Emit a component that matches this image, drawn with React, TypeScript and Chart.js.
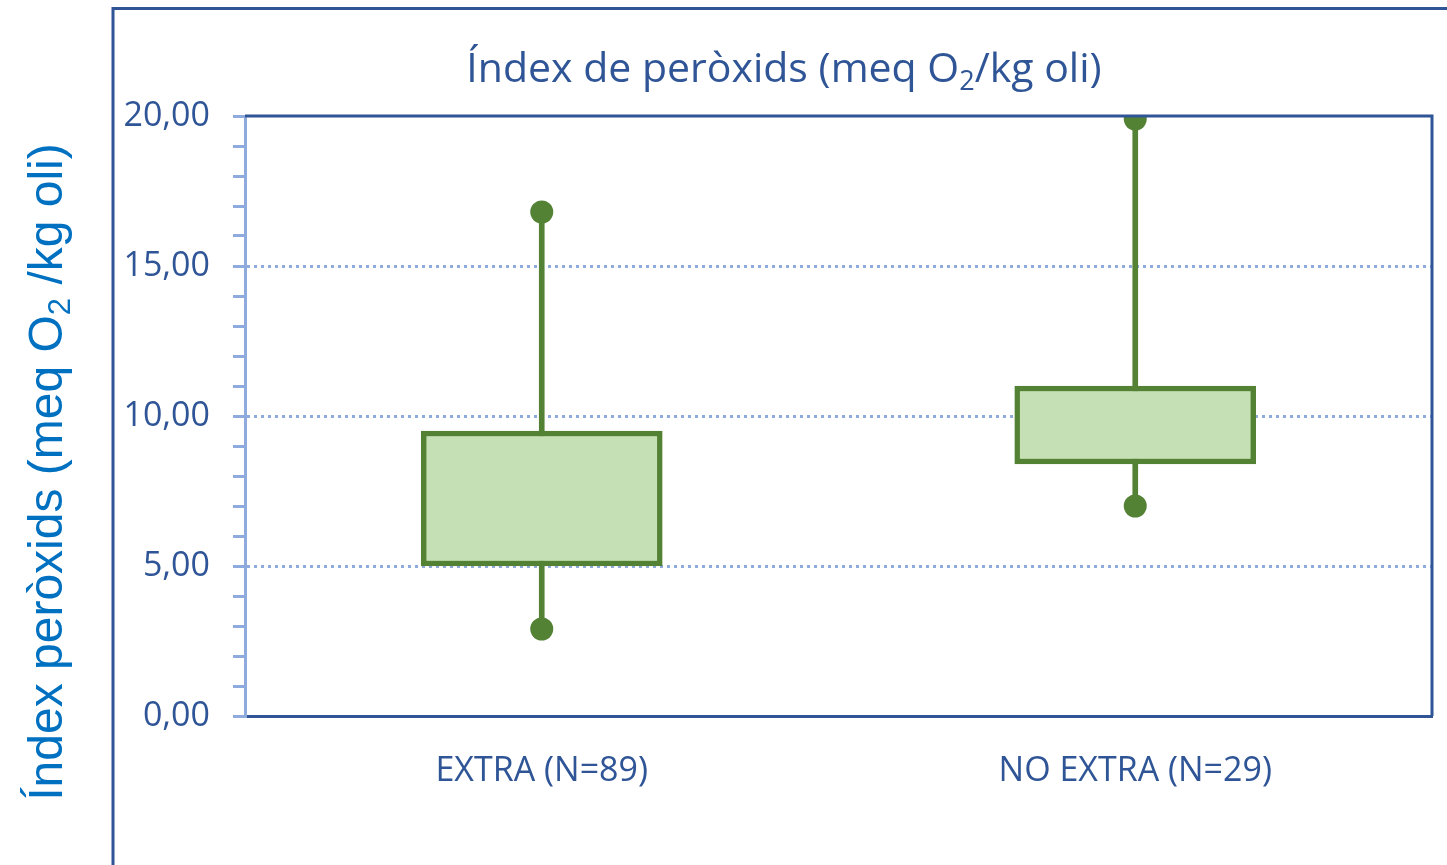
import React, { useEffect, useRef } from 'react';
import { Chart, registerables } from 'chart.js';

Chart.register(...registerables);

// ---- data ----
const categories = ['EXTRA (N=89)', 'NO EXTRA (N=29)'];
const whiskerMin = [2.9, 7.0];
const q1 = [5.0, 8.4];
const q3 = [9.5, 11.0];
const whiskerMax = [16.8, 19.9];
const yMin = 0;
const yMax = 20;
const yMajorStep = 5;
const chartTitleParts = ['Índex de peròxids (meq O', '2', '/kg oli)'];
const yTitleParts = ['Índex peròxids (meq O', '2', ' /kg oli)'];

// ---- styles ----
const GREEN = '#548235';
const FILL = '#c5e0b4';
const DARK = '#2f5597';
const LIGHT = '#8faadc';
const TEXT = '#2f5597';
const YTITLE = '#0070c0';

const fmt = (v: number) => v.toFixed(2).replace('.', ',');

function drawRich(
  ctx: CanvasRenderingContext2D,
  parts: string[],
  font: string,
  subFont: string,
  cx: number,
  baseline: number,
  subShift: number
) {
  ctx.font = font;
  const w0 = ctx.measureText(parts[0]).width;
  const w2 = ctx.measureText(parts[2]).width;
  ctx.font = subFont;
  const w1 = ctx.measureText(parts[1]).width;
  let x = cx - (w0 + w1 + w2) / 2;
  ctx.textAlign = 'left';
  ctx.textBaseline = 'alphabetic';
  ctx.font = font;
  ctx.fillText(parts[0], x, baseline);
  x += w0;
  ctx.font = subFont;
  ctx.fillText(parts[1], x, baseline + subShift);
  x += w1;
  ctx.font = font;
  ctx.fillText(parts[2], x, baseline);
}

const decorPlugin = {
  id: 'decor',
  beforeDraw(chart: any) {
    const ctx = chart.ctx as CanvasRenderingContext2D;
    ctx.save();
    ctx.fillStyle = '#ffffff';
    ctx.fillRect(0, 0, chart.width, chart.height);
    // outer frame
    ctx.strokeStyle = DARK;
    ctx.lineWidth = 3;
    ctx.beginPath();
    ctx.moveTo(113, chart.height + 5);
    ctx.lineTo(113, 8.5);
    ctx.lineTo(chart.width + 5, 8.5);
    ctx.stroke();
    ctx.restore();
  },
  afterDraw(chart: any) {
    const ctx = chart.ctx as CanvasRenderingContext2D;
    const a = chart.chartArea;
    ctx.save();
    // plot area top/right border
    ctx.strokeStyle = DARK;
    ctx.lineWidth = 3;
    ctx.lineJoin = 'miter';
    ctx.beginPath();
    ctx.moveTo(a.left, a.top);
    ctx.lineTo(a.right, a.top);
    ctx.lineTo(a.right, a.bottom);
    ctx.stroke();
    // chart title
    ctx.fillStyle = TEXT;
    drawRich(ctx, chartTitleParts, '41px "Open Sans"', '27px "Open Sans"', 784, 82, 8);
    // y axis title (outside frame)
    ctx.translate(62, 472);
    ctx.rotate(-Math.PI / 2);
    ctx.fillStyle = YTITLE;
    drawRich(ctx, yTitleParts, '48px "Liberation Sans"', '31px "Liberation Sans"', 0, 0, 8);
    ctx.restore();
  },
};

export default function App() {
  const canvasRef = useRef<HTMLCanvasElement | null>(null);

  useEffect(() => {
    if (!canvasRef.current) return;
    const dotPoints: { x: string; y: number }[] = [];
    categories.forEach((c, i) => {
      dotPoints.push({ x: c, y: whiskerMin[i] });
      dotPoints.push({ x: c, y: whiskerMax[i] });
    });

    const chart = new Chart(canvasRef.current, {
      type: 'bar',
      data: {
        labels: categories,
        datasets: [
          {
            type: 'line',
            label: 'Extrems',
            data: dotPoints as any,
            showLine: false,
            pointRadius: 11.5,
            pointHoverRadius: 11.5,
            pointBackgroundColor: GREEN,
            pointBorderWidth: 0,
            borderWidth: 0,
            order: 0,
            clip: 0,
          } as any,
          {
            type: 'bar',
            label: 'Caixa',
            data: categories.map((_, i) => [q1[i], q3[i]]) as any,
            backgroundColor: FILL,
            borderColor: GREEN,
            borderWidth: 5.5,
            borderSkipped: false,
            barThickness: 241,
            grouped: false,
            order: 1,
          } as any,
          {
            type: 'bar',
            label: 'Bigotis',
            data: categories.map((_, i) => [whiskerMin[i], whiskerMax[i]]) as any,
            backgroundColor: GREEN,
            borderWidth: 0,
            barThickness: 5,
            grouped: false,
            order: 2,
          } as any,
        ],
      },
      options: {
        animation: false,
        responsive: true,
        maintainAspectRatio: false,
        events: [],
        layout: { padding: { top: 116, right: 15, bottom: 0, left: 0 } },
        plugins: {
          legend: { display: false },
          title: { display: false },
          tooltip: { enabled: false },
        },
        scales: {
          x: {
            type: 'category',
            offset: true,
            grid: { display: false, drawTicks: false },
            border: { display: true, color: DARK, width: 3 },
            ticks: {
              color: TEXT,
              font: { family: '"Open Sans"', size: 34 },
              padding: 35,
              maxRotation: 0,
            },
            afterFit: (s: any) => {
              s.height = 149;
            },
          },
          y: {
            type: 'linear',
            min: yMin,
            max: yMax,
            ticks: {
              stepSize: 1,
              autoSkip: false,
              color: TEXT,
              font: { family: '"Open Sans"', size: 34 },
              padding: 23,
              callback: (v: any) => (Number(v) % yMajorStep === 0 ? fmt(Number(v)) : ''),
            },
            grid: {
              color: (c: any) => {
                const v = c.tick ? c.tick.value : NaN;
                return v % yMajorStep === 0 && v !== yMin && v !== yMax ? LIGHT : 'rgba(0,0,0,0)';
              },
              lineWidth: 3,
              tickColor: LIGHT,
              tickLength: 12,
              tickWidth: 3,
              tickBorderDash: [],
            },
            border: { display: true, color: LIGHT, width: 3, dash: [3, 4] },
            afterFit: (s: any) => {
              s.width = 245;
            },
          },
        },
      },
      plugins: [decorPlugin],
    });

    return () => chart.destroy();
  }, []);

  return (
    <div style={{ position: 'fixed', left: 0, top: 0, width: 1447, height: 865, background: '#fff' }}>
      <canvas ref={canvasRef} />
    </div>
  );
}
